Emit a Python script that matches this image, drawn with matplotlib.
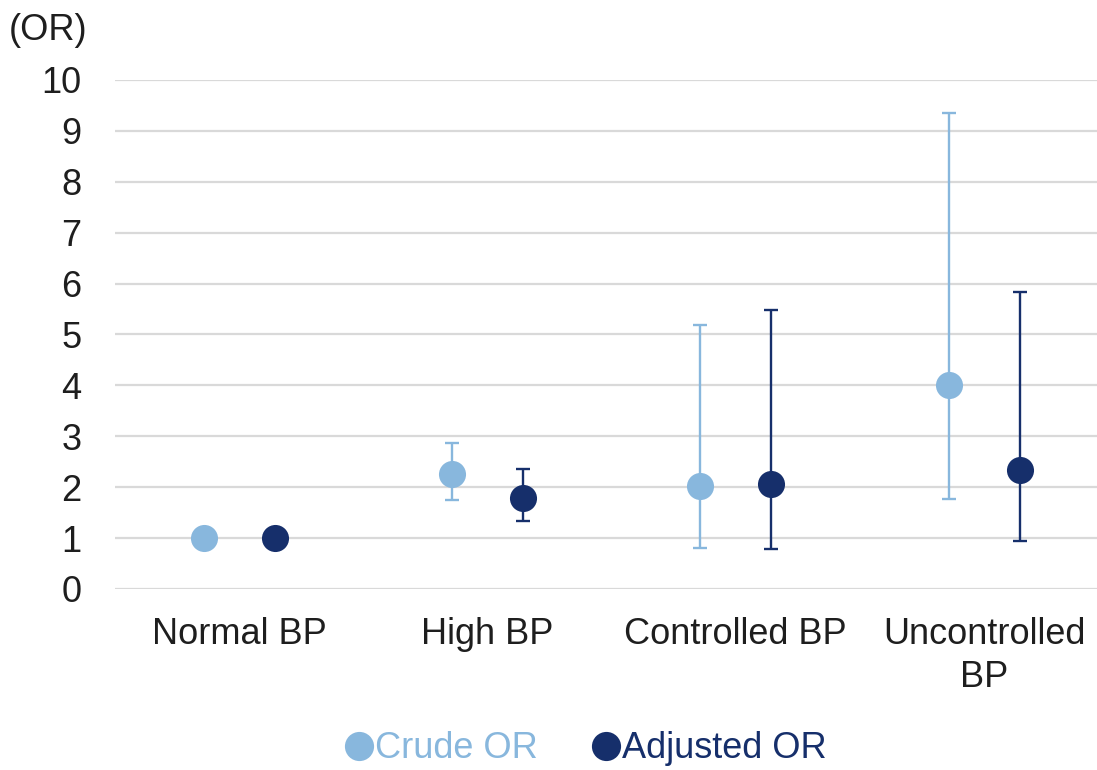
import matplotlib.pyplot as plt
import numpy as np
from matplotlib.lines import Line2D

plt.rcParams['font.family'] = ['Liberation Sans', 'DejaVu Sans']

categories = ["Normal BP", "High BP", "Controlled BP", "Uncontrolled\nBP"]
crude_or = [1.0, 2.25, 2.02, 4.01]
crude_low = [1.0, 1.75, 0.81, 1.77]
crude_high = [1.0, 2.87, 5.19, 9.36]
adj_or = [1.0, 1.78, 2.06, 2.34]
adj_low = [1.0, 1.33, 0.79, 0.94]
adj_high = [1.0, 2.35, 5.49, 5.84]
yticks = list(range(0, 11))

LIGHT = "#88B7DD"
DARK = "#162F6B"
FS = 26

fig = plt.figure(figsize=(10.97, 7.70), dpi=100)
ax = fig.add_axes([115 / 1097, 1 - 589 / 770, 1 - 115 / 1097, (589 - 80) / 770])

x = np.arange(len(categories))
off = 0.143

for vals, lo, hi, dx, color in [
    (crude_or, crude_low, crude_high, -off, LIGHT),
    (adj_or, adj_low, adj_high, off, DARK),
]:
    vals = np.array(vals)
    err = np.array([vals - np.array(lo), np.array(hi) - vals])
    has_err = err.sum(axis=0) > 0
    ax.errorbar(x[has_err] + dx, vals[has_err], yerr=err[:, has_err], fmt="none",
                ecolor=color, elinewidth=1.7, capsize=5, capthick=1.7, zorder=3)
    ax.plot(x + dx, vals, "o", color=color, markersize=19.5, markeredgewidth=0, zorder=4)

ax.set_ylim(0, 10)
ax.set_xlim(-0.5, 3.455)
ax.set_yticks(yticks)
ax.set_xticks(x)
ax.set_xticklabels(categories, fontsize=FS, color="#1E1E1E", linespacing=1.3)
ax.tick_params(axis="y", length=0, pad=24, labelsize=FS, labelcolor="#1E1E1E")
ax.tick_params(axis="x", length=0, pad=20)
ax.grid(axis="y", color="#D9D9D9", linewidth=1.6)
ax.set_axisbelow(True)
for s in ax.spines.values():
    s.set_visible(False)

fig.text(9 / 1097, 1 - 30 / 770, "(OR)", fontsize=FS, color="#1E1E1E", va="center", ha="left")

handles = [
    Line2D([], [], marker="o", linestyle="none", color=LIGHT, markersize=21, markeredgewidth=0),
    Line2D([], [], marker="o", linestyle="none", color=DARK, markersize=21, markeredgewidth=0),
]
leg = fig.legend(handles, ["Crude OR", "Adjusted OR"], loc="center",
                 bbox_to_anchor=(582 / 1097, 1 - 749 / 770), ncol=2, frameon=False,
                 fontsize=FS, handletextpad=-0.15, columnspacing=1.3, handlelength=1.2)
for t, c in zip(leg.get_texts(), [LIGHT, DARK]):
    t.set_color(c)

fig.savefig("out.png", dpi=100)
